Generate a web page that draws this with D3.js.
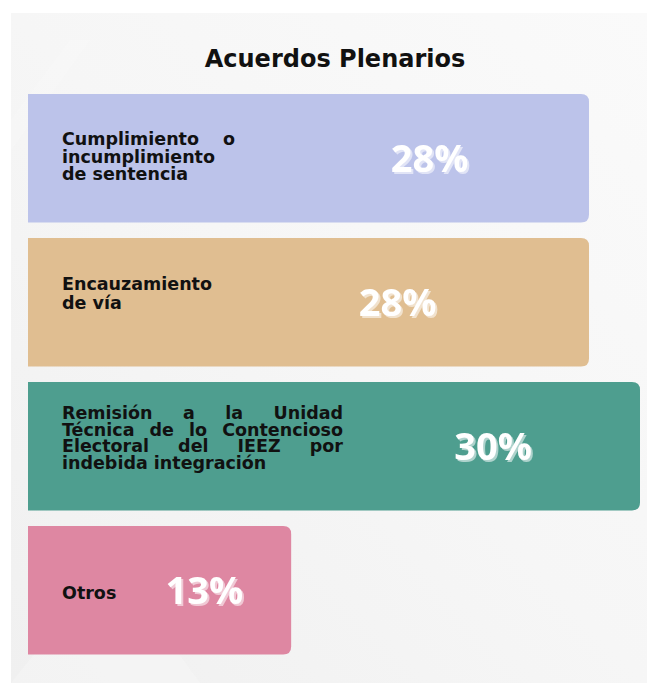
<!DOCTYPE html>
<html>
<head>
<meta charset="utf-8">
<script src="https://cdn.jsdelivr.net/npm/d3@7"></script>
<style>
  html,body{margin:0;padding:0;background:#fff;}
  svg{display:block;}
</style>
</head>
<body>
<div id="chart"></div>
<script>
// Acuerdos Plenarios: barras horizontales con etiqueta y porcentaje dentro.
const titulo = "Acuerdos Plenarios";
const categorias = [
  "Cumplimiento o incumplimiento de sentencia",
  "Encauzamiento de vía",
  "Remisión a la Unidad Técnica de lo Contencioso Electoral del IEEZ por indebida integración",
  "Otros"
];
// líneas tal como aparecen en la imagen
const lineas = [
  ["Cumplimiento o", "incumplimiento", "de sentencia"],
  ["Encauzamiento", "de vía"],
  ["Remisión a la Unidad", "Técnica de lo Contencioso", "Electoral del IEEZ por", "indebida integración"],
  ["Otros"]
];
const porcentajes = [27.5, 27.5, 30, 12.9];   // estimado por largo de barra; se muestra redondeado
const colores = ["#bcc3ea", "#e0be91", "#4e9e8f", "#de87a2"];

// estilo / maquetación
const anchoCaja = [173, 0, 281, 0];          // texto justificado (0 = sin justificar)
const posPct = [0.716, 0.659, 0.76, 0.67];   // centro del % como fracción de la barra
const ajusteY = [4.5, -3, -2.5, 8.5];        // desplazamiento vertical del bloque de texto
const interlinea = [17.5, 19, 16.5, 17];

const W = 647, H = 683;
const svg = d3.select("#chart").append("svg").attr("width", W).attr("height", H);

// fondo gris con degradado
const defs = svg.append("defs");
const gr = defs.append("linearGradient").attr("id","bg").attr("x1","0").attr("y1","1").attr("x2","1").attr("y2","0");
gr.append("stop").attr("offset","0").attr("stop-color","#f0f0f0");
gr.append("stop").attr("offset","0.5").attr("stop-color","#f6f6f6");
gr.append("stop").attr("offset","1").attr("stop-color","#fafafa");
svg.append("rect").attr("x",11).attr("y",13).attr("width",W-11).attr("height",H-13).attr("fill","url(#bg)");
// brillos diagonales sutiles
const brillos = [
  [[11,120],[70,40],[90,40],[11,150]],
  [[11,683],[110,560],[200,683]],
  [[560,220],[647,60],[647,120],[600,240]]
];
svg.append("g").selectAll("polygon").data(brillos).join("polygon")
  .attr("points", d => d.map(p => p.join(",")).join(" "))
  .attr("fill","#f9f9f9").attr("opacity",0.35);

// sombra clara de los porcentajes (un filtro por color)
colores.forEach((c,i)=>{
  const f = defs.append("filter").attr("id","sombra"+i)
    .attr("x","-10%").attr("y","-10%").attr("width","130%").attr("height","130%");
  f.append("feOffset").attr("in","SourceAlpha").attr("dx",2).attr("dy",2).attr("result","off");
  f.append("feFlood").attr("flood-color", d3.interpolateRgb(c,"#ffffff")(0.55));
  f.append("feComposite").attr("in2","off").attr("operator","in").attr("result","sh");
  const m = f.append("feMerge");
  m.append("feMergeNode").attr("in","sh");
  m.append("feMergeNode").attr("in","SourceGraphic");
});

svg.append("text").attr("x",335).attr("y",67).attr("text-anchor","middle")
  .attr("font-family","'DejaVu Sans', sans-serif").attr("font-weight",700)
  .attr("font-size",24).attr("fill","#111").text(titulo);

const x = d3.scaleLinear().domain([0,30]).range([28,640]);
const y = d3.scaleBand().domain(categorias).range([94,654.5]).paddingInner(0.108);
const fmt = d3.format(".0f");
const r = 8;

// barra con esquinas derechas redondeadas
function barra(x0, y0, w, h){
  return `M${x0},${y0}H${x0+w-r}Q${x0+w},${y0} ${x0+w},${y0+r}V${y0+h-r}Q${x0+w},${y0+h} ${x0+w-r},${y0+h}H${x0}Z`;
}

const filas = svg.append("g").selectAll("g").data(categorias).join("g");
filas.append("path")
  .attr("d",(d,i)=>barra(x(0), y(d), x(porcentajes[i])-x(0), y.bandwidth()))
  .attr("fill",(d,i)=>colores[i]);

// etiquetas: un solo <text> por barra, líneas en tspans (justificadas cuando hay caja)
const fs = 17.5, tx = 62;
filas.each(function(d,i){
  const g = d3.select(this);
  const cy = y(d) + y.bandwidth()/2;
  const n = lineas[i].length, lh = interlinea[i];
  const y0 = cy - (n-1)*lh/2 + ajusteY[i];
  const t = g.append("text")
    .attr("font-family","'DejaVu Sans', sans-serif").attr("font-weight",700)
    .attr("font-size",fs).attr("fill","#111");
  lineas[i].forEach((ln,j)=>{
    const yy = y0 + j*lh;
    const pal = ln.split(" ");
    if(anchoCaja[i] && j < n-1 && pal.length > 1){
      const tsp = pal.map(p => t.append("tspan").attr("y",yy).text(p));
      const anchos = tsp.map(s => s.node().getComputedTextLength());
      const hueco = (anchoCaja[i] - d3.sum(anchos)) / (pal.length-1);
      let cx = tx;
      tsp.forEach((s,k)=>{ s.attr("x",cx); cx += anchos[k] + hueco; });
    } else {
      t.append("tspan").attr("x",tx).attr("y",yy).text(ln);
    }
  });

  // porcentaje blanco con sombra clara
  const px = x(0) + (x(porcentajes[i])-x(0))*posPct[i];
  g.append("text").attr("x",px).attr("y",cy+14).attr("text-anchor","middle")
    .attr("font-family","'Open Sans', sans-serif").attr("font-weight",700)
    .attr("font-size",38).attr("fill","#ffffff")
    .attr("filter",`url(#sombra${i})`).text(fmt(porcentajes[i])+"%");
});
</script>
</body>
</html>
